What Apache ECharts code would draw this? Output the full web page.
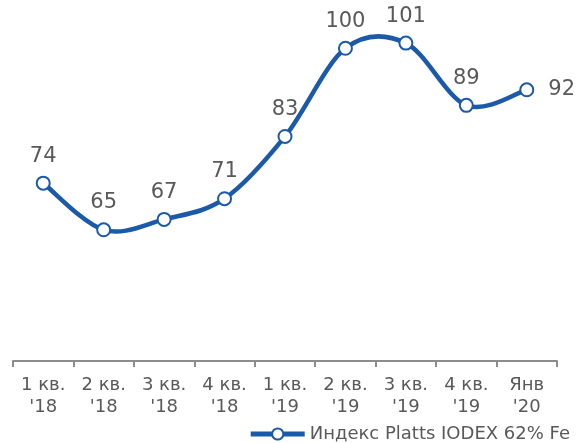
<!DOCTYPE html>
<html>
<head>
<meta charset="utf-8">
<script src="https://cdn.jsdelivr.net/npm/echarts@6/dist/echarts.min.js"></script>
<style>
  html, body { margin: 0; padding: 0; background: #fff; }
  #chart { width: 578px; height: 443px; }
</style>
</head>
<body>
<div id="chart"></div>
<script>
// подписи оси X (квартал / год)
var categories = ["1 кв.\n'18", "2 кв.\n'18", "3 кв.\n'18", "4 кв.\n'18", "1 кв.\n'19", "2 кв.\n'19", "3 кв.\n'19", "4 кв.\n'19", "Янв\n'20"];
var seriesName = 'Индекс Platts IODEX 62% Fe';
var iodexValues = [74, 65, 67, 71, 83, 100, 101, 89, 92];

var chart = echarts.init(document.getElementById('chart'));

var blue = '#1a5aa8';
var grey = '#595959';
var font = '"DejaVu Sans", Verdana, sans-serif';

var seriesData = [];
var curveData = [];
for (var i = 0; i < iodexValues.length; i++) {
    var item = { value: iodexValues[i] };
    // последнюю подпись ставим справа
    if (i == iodexValues.length - 1) {
        item.label = { position: 'right', distance: 14 };
    }
    seriesData.push(item);
    curveData.push([i, iodexValues[i]]);
}

// сглаженная линия как в Excel (кривая Катмулла-Рома), точки берём из осей ECharts
function renderCurve(params, api) {
    if (params.dataIndex !== 0) return;
    var pts = [];
    for (var k = 0; k < iodexValues.length; k++) {
        pts.push(api.coord([k, iodexValues[k]]));
    }
    var d = 'M' + pts[0][0] + ' ' + pts[0][1];
    for (var k = 0; k < pts.length - 1; k++) {
        var p0 = pts[Math.max(k - 1, 0)];
        var p1 = pts[k];
        var p2 = pts[k + 1];
        var p3 = pts[Math.min(k + 2, pts.length - 1)];
        var c1x = p1[0] + (p2[0] - p0[0]) / 6, c1y = p1[1] + (p2[1] - p0[1]) / 6;
        var c2x = p2[0] - (p3[0] - p1[0]) / 6, c2y = p2[1] - (p3[1] - p1[1]) / 6;
        d += ' C' + c1x + ' ' + c1y + ' ' + c2x + ' ' + c2y + ' ' + p2[0] + ' ' + p2[1];
    }
    return {
        type: 'path',
        shape: { pathData: d },
        style: { stroke: blue, lineWidth: 4.5, fill: null, lineJoin: 'round', lineCap: 'round' }
    };
}

var option = {
    animation: false,
    grid: { left: 13, right: 21, top: 40, bottom: 82 },
    legend: {
        data: [seriesName],
        right: 8,
        bottom: 0,
        padding: 0,
        itemWidth: 54,
        itemHeight: 14,
        itemGap: 12,
        lineStyle: { color: blue, width: 5, opacity: 1 },
        textStyle: { color: grey, fontSize: 18, fontFamily: font }
    },
    xAxis: {
        type: 'category',
        data: categories,
        boundaryGap: true,
        axisLine: { lineStyle: { color: '#8c8c8c', width: 2 } },
        axisTick: { show: true, length: 6, lineStyle: { color: '#8c8c8c', width: 2 } },
        axisLabel: {
            color: grey,
            fontSize: 18,
            fontFamily: font,
            lineHeight: 22,
            margin: 13,
            interval: 0
        }
    },
    yAxis: {
        type: 'value',
        min: 39.7,
        max: 101.6,
        show: false,
        splitLine: { show: false }
    },
    series: [{
        name: 'curve',
        type: 'custom',
        renderItem: renderCurve,
        data: curveData,
        z: 1,
        silent: true
    }, {
        name: seriesName,
        type: 'line',
        data: seriesData,
        z: 3,
        symbol: 'circle',
        symbolSize: 13,
        itemStyle: { color: '#ffffff', borderColor: blue, borderWidth: 2 },
        lineStyle: { color: blue, width: 4.5, opacity: 0 },
        label: {
            show: true,
            position: 'top',
            distance: 9,
            color: grey,
            fontSize: 21,
            fontFamily: font
        }
    }]
};

chart.setOption(option);
</script>
</body>
</html>
